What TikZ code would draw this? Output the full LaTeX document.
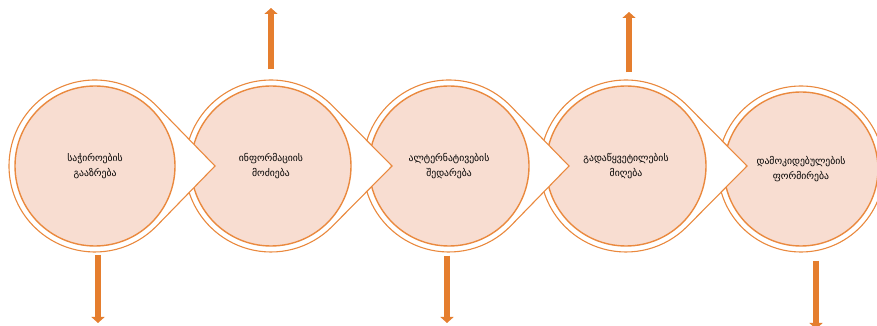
\documentclass[tikz,border=0pt]{standalone}
\usepackage{fontspec}
\newfontfamily\geofont{DejaVu Sans}
\usetikzlibrary{arrows.meta,calc}

\definecolor{rimorange}{RGB}{234,137,62}
\definecolor{petal}{RGB}{248,221,209}
\definecolor{flowfill}{RGB}{229,126,46}

\begin{document}
\begin{tikzpicture}[x=1pt,y=1pt,
  rim/.style={draw=rimorange,line width=1.1pt,fill=white},
  disc/.style={circle,draw=rimorange,line width=1.4pt,fill=petal,
    minimum size=160pt,inner sep=0pt,align=center,
    font=\geofont\fontsize{9.7}{14.5}\selectfont},
  flow/.style={draw=flowfill,line width=6.5pt,
    -{Triangle[length=6pt,width=13pt]}}]
 \useasboundingbox (0,0) rectangle (877,326);
 \clip (0,0) rectangle (877,326);
 % ---- centres ----
 \coordinate (o1) at (95,160);
 \coordinate (o2) at (271,160);
 \coordinate (o3) at (449,160);
 \coordinate (o4) at (626,160);
 \coordinate (o5) at (801,157);
 % ---- stages, last one first so each tip lies over the next ----
 \draw[rim] (o5) circle[radius=83];
 \node[disc,minimum size=154pt] (c5) at (o5) {დამოკიდებულების\\ფორმირება};
 \draw[rim] ($(o4)+(121,0)$) -- ($(o4)+(44.7:86)$)
   arc[start angle=44.7,end angle=315.3,radius=86] -- cycle;
 \node[disc] (c4) at (o4) {გადაწყვეტილების\\მიღება};
 \draw[rim] ($(o3)+(120,0)$) -- ($(o3)+(44.2:86)$)
   arc[start angle=44.2,end angle=315.8,radius=86] -- cycle;
 \node[disc] (c3) at (o3) {ალტერნატივების\\შედარება};
 \draw[rim] ($(o2)+(121,0)$) -- ($(o2)+(44.7:86)$)
   arc[start angle=44.7,end angle=315.3,radius=86] -- cycle;
 \node[disc] (c2) at (o2) {ინფორმაციის\\მოძიება};
 \draw[rim] ($(o1)+(120,0)$) -- ($(o1)+(44.2:86)$)
   arc[start angle=44.2,end angle=315.8,radius=86] -- cycle;
 \node[disc] (c1) at (o1) {საჭიროების\\გააზრება};
 % ---- outgoing arrows ----
 \coordinate (d1) at (98,3);
 \coordinate (u2) at (271,318);
 \coordinate (d3) at (447,3);
 \coordinate (u4) at (629,314);
 \coordinate (d5) at (816,-3);
 \draw[flow] ([shift={(3,-8)}]c1.south) -- (d1);
 \draw[flow] ([shift={(0,16)}]c2.north) -- (u2);
 \draw[flow] ([shift={(-2,-9)}]c3.south) -- (d3);
 \draw[flow] ([shift={(3,13)}]c4.north) -- (u4);
 \draw[flow] ([shift={(15,-14)}]c5.south) -- (d5);
\end{tikzpicture}
\end{document}
